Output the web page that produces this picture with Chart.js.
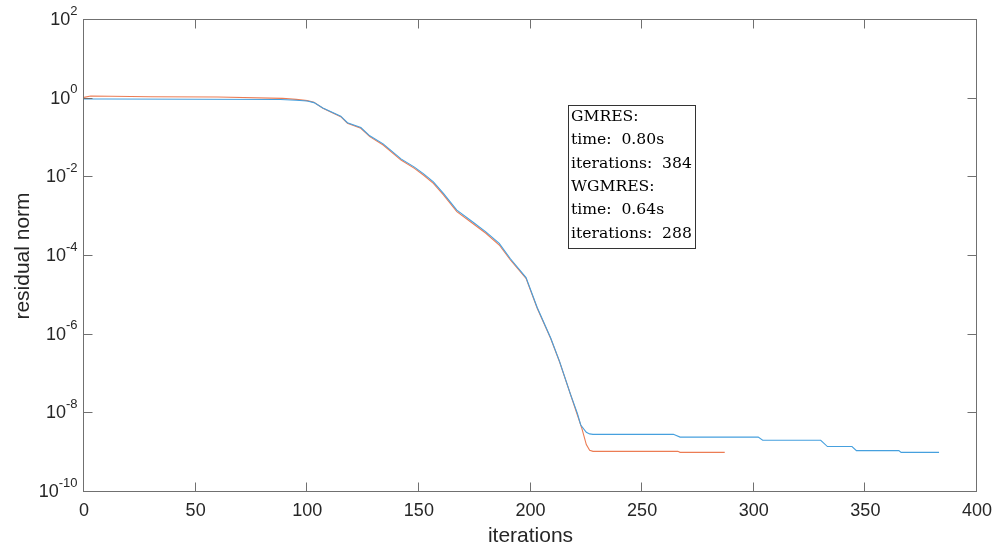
<!DOCTYPE html>
<html>
<head>
<meta charset="utf-8">
<title>residual norm</title>
<script src="https://cdn.jsdelivr.net/npm/chart.js@4.4.1/dist/chart.umd.min.js"></script>
<style>
  html, body { margin: 0; padding: 0; background: #fff; }
  #plot { display: block; }
</style>
</head>
<body>
<canvas id="plot" width="997" height="547"></canvas>
<script>
// Datos (iteracion, norma residual)
let gmresIter = [0, 10, 50, 88, 95, 100, 103, 107, 115, 118, 124, 128, 134, 142, 148, 152, 156.5, 161, 167, 174, 180, 186, 191, 198, 203, 209, 213, 218, 221, 222.5, 225, 226.5, 228, 264, 267, 302, 304, 330, 333, 344, 346, 365, 366, 383];
let gmresRes = [0.98, 0.977, 0.966, 0.955, 0.912, 0.871, 0.794, 0.582, 0.359, 0.245, 0.184, 0.1135, 0.0708, 0.0295, 0.0182, 0.01245, 7.67e-3, 3.89e-3, 1.46e-3, 7.41e-4, 4.12e-4, 2.09e-4, 8.51e-5, 2.82e-5, 4.9e-6, 8.32e-7, 2.09e-7, 2.95e-8, 1.0e-8, 5.05e-9, 3.3e-9, 3.0e-9, 2.92e-9, 2.92e-9, 2.49e-9, 2.49e-9, 2.07e-9, 2.07e-9, 1.43e-9, 1.43e-9, 1.13e-9, 1.13e-9, 1.02e-9, 1.02e-9];

let wgmresIter = [0, 3, 30, 60, 89, 95, 100, 103, 107, 115, 118, 124, 128, 134, 142, 148, 152, 156.5, 161, 167, 174, 180, 186, 191, 198, 203, 209, 213, 218, 221, 223, 225, 226.5, 228, 266, 267, 287];
let wgmresRes = [1.08, 1.17, 1.12, 1.1, 1.02, 0.96, 0.89, 0.81, 0.569, 0.348, 0.236, 0.176, 0.108, 0.0664, 0.0275, 0.0169, 0.01146, 7.05e-3, 3.56e-3, 1.34e-3, 6.78e-4, 3.78e-4, 1.9e-4, 7.9e-5, 2.71e-5, 4.68e-6, 8.07e-7, 2.05e-7, 2.92e-8, 9.06e-9, 4.16e-9, 1.6e-9, 1.15e-9, 1.08e-9, 1.08e-9, 1.02e-9, 1.02e-9];

// Marcas de los ejes
let xTicks = [0, 50, 100, 150, 200, 250, 300, 350, 400];
let yTicks = [1e-10, 1e-8, 1e-6, 1e-4, 1e-2, 1e0, 1e2];
let yTickExp = ['-10', '-8', '-6', '-4', '-2', '0', '2'];

let infoLines = ['GMRES:', 'time:  0.80s', 'iterations:  384', 'WGMRES:', 'time:  0.64s', 'iterations:  288'];

let toPoints = (xs, ys) => xs.map((x, i) => ({ x: x, y: ys[i] }));

let sans = '"Liberation Sans", Arial, sans-serif';

// Plugin para dibujar el marco, las marcas, los textos y el cuadro de informacion
let marcoPlugin = {
  id: 'marco',
  afterDraw: (chart) => {
    let ctx = chart.ctx;
    let area = chart.chartArea;
    let xs = chart.scales.x;
    let ys = chart.scales.y;
    let L = area.left - 0.5, R = area.right - 0.5, T = area.top - 0.5, B = area.bottom - 0.5;
    let tick = 9;

    ctx.save();
    ctx.strokeStyle = '#707070';
    ctx.lineWidth = 1;
    ctx.strokeRect(L, T, R - L, B - T);

    ctx.beginPath();
    xTicks.forEach(v => {
      let px = Math.round(xs.getPixelForValue(v)) - 0.5;
      ctx.moveTo(px, B); ctx.lineTo(px, B - tick);
      ctx.moveTo(px, T); ctx.lineTo(px, T + tick);
    });
    yTicks.forEach(v => {
      let py = Math.round(ys.getPixelForValue(v)) - 0.5;
      ctx.moveTo(L, py); ctx.lineTo(L + tick, py);
      ctx.moveTo(R, py); ctx.lineTo(R - tick, py);
    });
    ctx.stroke();

    // Etiquetas del eje x
    ctx.fillStyle = '#262626';
    ctx.font = '18px ' + sans;
    ctx.textAlign = 'center';
    ctx.textBaseline = 'middle';
    xTicks.forEach(v => {
      ctx.fillText(String(v), xs.getPixelForValue(v), B + 20);
    });

    // Etiquetas del eje y (10 con exponente)
    yTicks.forEach((v, i) => {
      let py = ys.getPixelForValue(v);
      ctx.font = '13px ' + sans;
      let wExp = ctx.measureText(yTickExp[i]).width;
      ctx.textAlign = 'right';
      ctx.fillText(yTickExp[i], L - 6, py - 9);
      ctx.font = '18px ' + sans;
      ctx.fillText('10', L - 6 - wExp, py);
    });

    // Titulos de los ejes
    ctx.font = '21px ' + sans;
    ctx.textAlign = 'center';
    ctx.fillText('iterations', (area.left + area.right) / 2, B + 45);
    ctx.save();
    ctx.translate(23, (area.top + area.bottom) / 2);
    ctx.rotate(-Math.PI / 2);
    ctx.fillText('residual norm', 0, 0);
    ctx.restore();

    // Cuadro de texto
    ctx.fillStyle = '#fff';
    ctx.fillRect(568.5, 105.5, 127, 143);
    ctx.strokeStyle = '#333';
    ctx.strokeRect(568.5, 105.5, 127, 143);
    ctx.fillStyle = '#000';
    ctx.font = '15.6px "DejaVu Serif", serif';
    ctx.textAlign = 'left';
    ctx.textBaseline = 'alphabetic';
    infoLines.forEach((t, i) => {
      ctx.fillText(t, 571, 121 + i * 23.3);
    });
    ctx.restore();
  }
};

let config = {
  type: 'line',
  data: {
    datasets: [
      {
        label: 'GMRES',
        data: toPoints(gmresIter, gmresRes),
        borderColor: 'rgb(70, 160, 222)',
        borderWidth: 1.1,
      },
      {
        label: 'WGMRES',
        data: toPoints(wgmresIter, wgmresRes),
        borderColor: 'rgb(236, 124, 84)',
        borderWidth: 1.1,
      }
    ]
  },
  options: {
    responsive: false,
    animation: false,
    elements: { point: { radius: 0 }, line: { tension: 0 } },
    layout: { padding: { left: 84, right: 20, top: 20, bottom: 55 } },
    plugins: { legend: { display: false }, tooltip: { enabled: false } },
    scales: {
      x: { type: 'linear', min: 0, max: 400, display: false },
      y: { type: 'logarithmic', min: 1e-10, max: 1e2, display: false }
    }
  },
  plugins: [marcoPlugin]
};

let chart = new Chart(document.getElementById('plot'), config);
</script>
</body>
</html>
